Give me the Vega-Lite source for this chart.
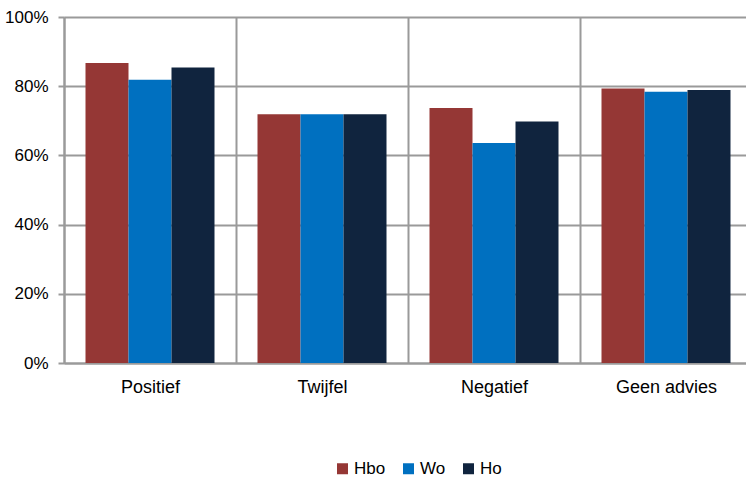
{
  "$schema": "https://vega.github.io/schema/vega-lite/v6.json",
  "width": 682,
  "height": 346,
  "autosize": {"type": "none"},
  "padding": {"left": 64, "top": 17, "right": 0, "bottom": 116},
  "config": {
    "font": "Liberation Sans",
    "view": {"stroke": null},
    "axis": {"labelFont": "Liberation Sans", "labelColor": "#000000", "labelFontSize": 17}
  },
  "data": {
    "values": [
      {"category": "Positief", "group": "Hbo", "value": 0.867},
      {"category": "Positief", "group": "Wo", "value": 0.819},
      {"category": "Positief", "group": "Ho", "value": 0.854},
      {"category": "Twijfel", "group": "Hbo", "value": 0.719},
      {"category": "Twijfel", "group": "Wo", "value": 0.719},
      {"category": "Twijfel", "group": "Ho", "value": 0.719},
      {"category": "Negatief", "group": "Hbo", "value": 0.737},
      {"category": "Negatief", "group": "Wo", "value": 0.636},
      {"category": "Negatief", "group": "Ho", "value": 0.698},
      {"category": "Geen advies", "group": "Hbo", "value": 0.793},
      {"category": "Geen advies", "group": "Wo", "value": 0.784},
      {"category": "Geen advies", "group": "Ho", "value": 0.789}
    ]
  },
  "mark": {"type": "bar"},
  "encoding": {
    "x": {
      "field": "category",
      "type": "nominal",
      "sort": ["Positief", "Twijfel", "Negatief", "Geen advies"],
      "scale": {"paddingInner": 0, "paddingOuter": 0, "range": [0, 688]},
      "axis": {
        "title": null,
        "labelAngle": 0,
        "tickBand": "extent",
        "grid": true,
        "gridColor": "#9a9a9a",
        "gridWidth": 2,
        "ticks": false,
        "domain": true,
        "domainColor": "#9a9a9a",
        "domainWidth": 2,
        "labelPadding": 15,
        "labelFontSize": 18
      }
    },
    "xOffset": {
      "field": "group",
      "type": "nominal",
      "sort": ["Hbo", "Wo", "Ho"],
      "scale": {"paddingInner": 0, "paddingOuter": 0.5}
    },
    "y": {
      "field": "value",
      "type": "quantitative",
      "scale": {"domain": [0, 1], "nice": false},
      "axis": {
        "title": null,
        "values": [0, 0.2, 0.4, 0.6, 0.8, 1],
        "format": ".0%",
        "grid": true,
        "gridColor": "#9a9a9a",
        "gridWidth": 2,
        "domain": true,
        "domainColor": "#9a9a9a",
        "domainWidth": 2,
        "ticks": true,
        "tickColor": "#9a9a9a",
        "tickWidth": 2,
        "tickSize": 6,
        "labelPadding": 10,
        "labelFontSize": 17
      }
    },
    "color": {
      "field": "group",
      "type": "nominal",
      "sort": ["Hbo", "Wo", "Ho"],
      "scale": {"domain": ["Hbo", "Wo", "Ho"], "range": ["#953735", "#0070c0", "#10243e"]},
      "legend": {
        "title": null,
        "orient": "none",
        "direction": "horizontal",
        "legendX": 270,
        "legendY": 443,
        "symbolType": "square",
        "symbolSize": 121,
        "symbolStrokeWidth": 0,
        "labelFontSize": 17,
        "labelFont": "Liberation Sans",
        "labelColor": "#000000",
        "labelOffset": 3,
        "columnPadding": 14,
        "padding": 0
      }
    }
  }
}
